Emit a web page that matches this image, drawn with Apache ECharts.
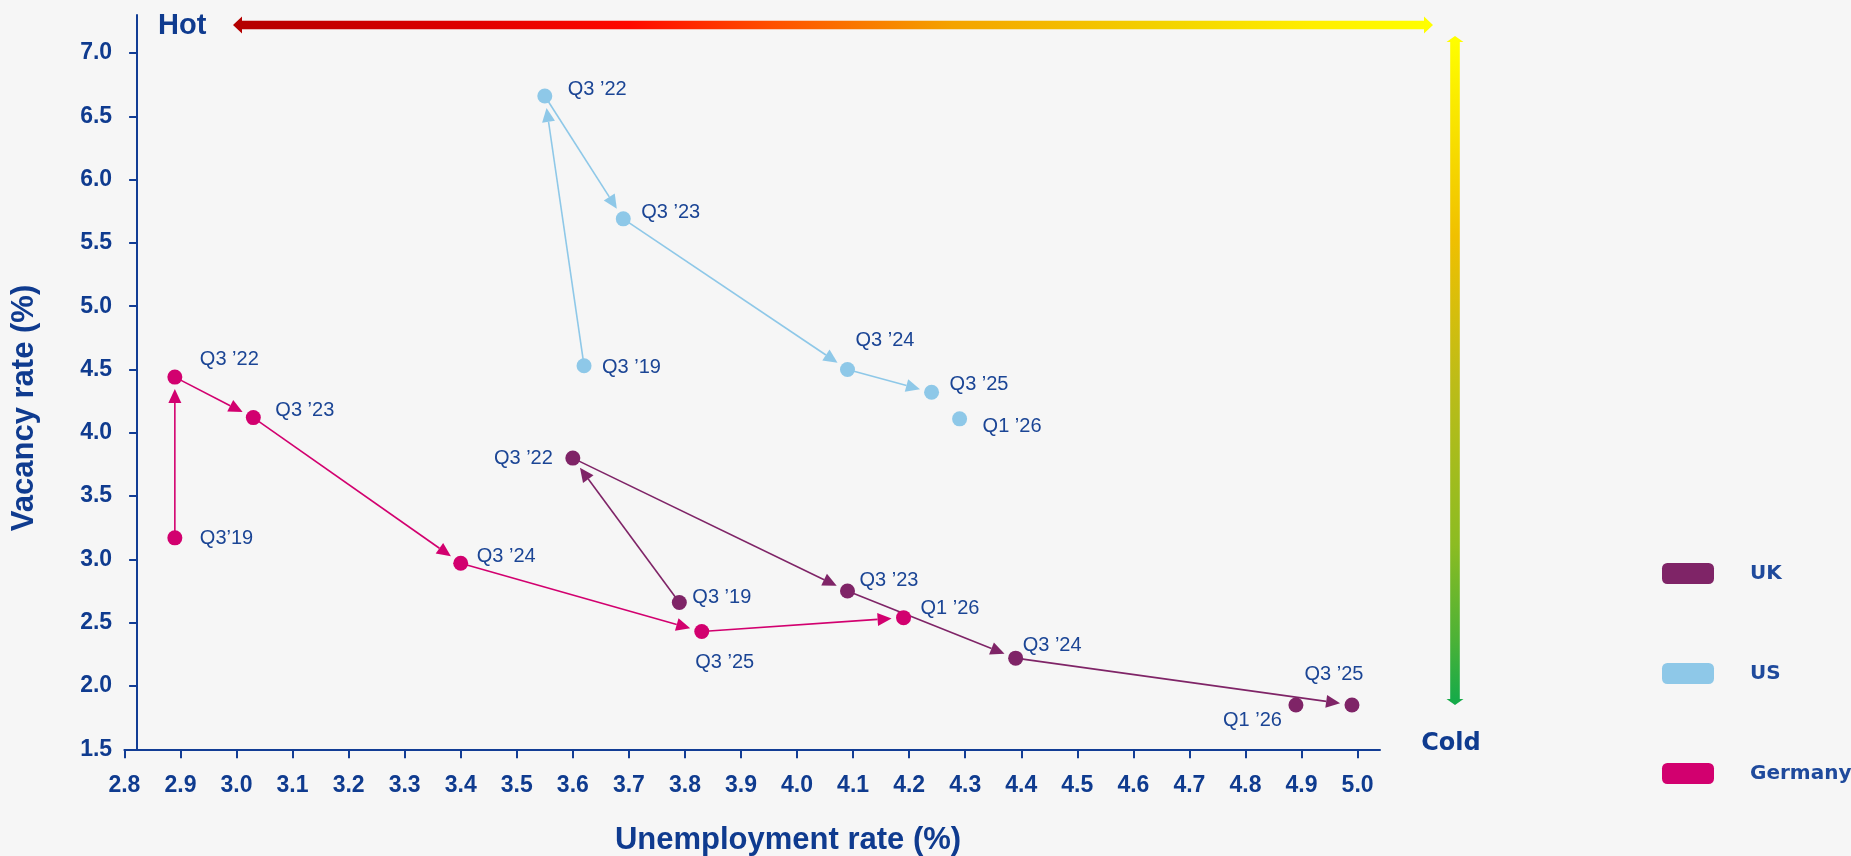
<!DOCTYPE html>
<html>
<head>
<meta charset="utf-8">
<script src="https://cdn.jsdelivr.net/npm/echarts@6/dist/echarts.min.js"></script>
<style>
html,body{margin:0;padding:0;background:#f6f6f6;}
#chart{width:1851px;height:856px;}
</style>
</head>
<body>
<div id="chart"></div>
<script>
// ---------------- DATA ----------------
const ukPeriods = ['Q3 ’19', 'Q3 ’22', 'Q3 ’23', 'Q3 ’24', 'Q3 ’25', 'Q1 ’26'];
const ukUnemployment = [3.79, 3.60, 4.09, 4.39, 4.99, 4.89];
const ukVacancy = [2.66, 3.80, 2.75, 2.22, 1.85, 1.85];
const ukArrowSteps = 4; // arrows drawn Q3'19 -> ... -> Q3'25

const usPeriods = ['Q3 ’19', 'Q3 ’22', 'Q3 ’23', 'Q3 ’24', 'Q3 ’25', 'Q1 ’26'];
const usUnemployment = [3.62, 3.55, 3.69, 4.09, 4.24, 4.29];
const usVacancy = [4.53, 6.66, 5.69, 4.50, 4.32, 4.11];
const usArrowSteps = 4;

const dePeriods = ['Q3’19', 'Q3 ’22', 'Q3 ’23', 'Q3 ’24', 'Q3 ’25', 'Q1 ’26'];
const deUnemployment = [2.89, 2.89, 3.03, 3.40, 3.83, 4.19];
const deVacancy = [3.17, 4.44, 4.12, 2.97, 2.43, 2.54];
const deArrowSteps = 5;

const xTickValues = [2.8, 2.9, 3.0, 3.1, 3.2, 3.3, 3.4, 3.5, 3.6, 3.7, 3.8, 3.9, 4.0, 4.1, 4.2, 4.3, 4.4, 4.5, 4.6, 4.7, 4.8, 4.9, 5.0];
const yTickValues = [1.5, 2.0, 2.5, 3.0, 3.5, 4.0, 4.5, 5.0, 5.5, 6.0, 6.5, 7.0];

const seriesNames = ['UK', 'US', 'Germany'];
const xAxisTitle = 'Unemployment rate (%)';
const yAxisTitle = 'Vacancy rate (%)';
const hotText = 'Hot';
const coldText = 'Cold';

// ---------------- LAYOUT / STYLE ----------------
const COLORS = { UK: '#7f2467', US: '#8ec8e8', Germany: '#d2006f' };
const NAVY = '#0f3b8f';
const LABEL_COLOR = '#1b4595';
const BOLD_FONT = '"Liberation Sans", Arial, sans-serif';
const WIDE_FONT = '"DejaVu Sans", Verdana, sans-serif';

// label offsets from point centre [dx, dy, align]
const LABEL_LAYOUT = {
  UK: [[13, -5, 'left'], [-20, 0, 'right'], [12, -11, 'left'], [7, -13, 'left'], [-18, -31, 'center'], [-14, 15, 'right']],
  US: [[18, 2, 'left'], [23, -7, 'left'], [18, -6, 'left'], [8, -29, 'left'], [18, -8, 'left'], [23, 8, 'left']],
  Germany: [[25, 1, 'left'], [25, -18, 'left'], [22, -7, 'left'], [16, -7, 'left'], [23, 31, 'center'], [17, -9, 'left']]
};

const SYMBOL = 15;
const ARROW_GAP = 12, HEAD_LEN = 14, HEAD_HALF = 6.5;

function pointData(name, xs, ys, periods) {
  return xs.map((x, i) => {
    const l = LABEL_LAYOUT[name][i];
    return {
      value: [x, ys[i]],
      label: {
        formatter: periods[i],
        position: [SYMBOL / 2 + l[0], SYMBOL / 2 + l[1]],
        align: l[2],
        verticalAlign: 'middle'
      }
    };
  });
}

function arrowData(xs, ys, steps) {
  const out = [];
  for (let i = 0; i < steps; i++) out.push([xs[i], ys[i], xs[i + 1], ys[i + 1]]);
  return out;
}

function arrowRenderer(color) {
  return function (params, api) {
    const p1 = api.coord([api.value(0), api.value(1)]);
    const p2 = api.coord([api.value(2), api.value(3)]);
    const dx = p2[0] - p1[0], dy = p2[1] - p1[1];
    const len = Math.hypot(dx, dy) || 1;
    const ux = dx / len, uy = dy / len;
    const tip = [p2[0] - ux * ARROW_GAP, p2[1] - uy * ARROW_GAP];
    const base = [tip[0] - ux * HEAD_LEN, tip[1] - uy * HEAD_LEN];
    const nx = -uy, ny = ux;
    return {
      type: 'group',
      children: [
        { type: 'line', shape: { x1: p1[0], y1: p1[1], x2: base[0], y2: base[1] },
          style: { stroke: color, lineWidth: 1.6 } },
        { type: 'polygon', shape: { points: [tip,
            [base[0] + nx * HEAD_HALF, base[1] + ny * HEAD_HALF],
            [base[0] - nx * HEAD_HALF, base[1] - ny * HEAD_HALF]] },
          style: { fill: color } }
      ]
    };
  };
}

const countries = [
  { name: 'UK', xs: ukUnemployment, ys: ukVacancy, periods: ukPeriods, steps: ukArrowSteps },
  { name: 'US', xs: usUnemployment, ys: usVacancy, periods: usPeriods, steps: usArrowSteps },
  { name: 'Germany', xs: deUnemployment, ys: deVacancy, periods: dePeriods, steps: deArrowSteps }
];

const series = [];
countries.forEach(c => {
  series.push({
    name: c.name,
    type: 'custom',
    renderItem: arrowRenderer(COLORS[c.name]),
    encode: { x: [0, 2], y: [1, 3] },
    itemStyle: { color: COLORS[c.name] },
    data: arrowData(c.xs, c.ys, c.steps),
    z: 2,
    silent: true
  });
});
countries.forEach(c => {
  series.push({
    name: c.name,
    type: 'scatter',
    symbol: 'circle',
    symbolSize: SYMBOL,
    itemStyle: { color: COLORS[c.name], opacity: 1 },
    label: {
      show: true,
      color: LABEL_COLOR,
      fontFamily: BOLD_FONT,
      fontSize: 20
    },
    data: pointData(c.name, c.xs, c.ys, c.periods),
    z: 3
  });
});

const hGradient = new echarts.graphic.LinearGradient(0, 0, 1, 0, [
  { offset: 0, color: '#b30000' },
  { offset: 0.2, color: '#e00000' },
  { offset: 0.33, color: '#ff0800' },
  { offset: 0.45, color: '#ff5000' },
  { offset: 0.6, color: '#f4a300' },
  { offset: 0.78, color: '#f3d400' },
  { offset: 0.9, color: '#ffee00' },
  { offset: 1, color: '#ffff00' }
]);
const vGradient = new echarts.graphic.LinearGradient(0, 0, 0, 1, [
  { offset: 0, color: '#ffff00' },
  { offset: 0.3, color: '#f0c000' },
  { offset: 0.52, color: '#bcbc18' },
  { offset: 0.76, color: '#8cbc22' },
  { offset: 0.9, color: '#4db236' },
  { offset: 1, color: '#12aa4a' }
]);

const chart = echarts.init(document.getElementById('chart'), null, { renderer: 'canvas' });
chart.setOption({
  backgroundColor: '#f6f6f6',
  animation: false,
  grid: { left: 124.4, right: 471, top: 15, bottom: 106.7, containLabel: false },
  xAxis: {
    type: 'value',
    min: 2.8, max: 5.04, interval: 0.1,
    splitLine: { show: false },
    axisLine: { show: true, onZero: false, lineStyle: { color: '#123d95', width: 2 } },
    axisTick: { show: true, length: 9, lineStyle: { color: '#123d95', width: 2 }, customValues: xTickValues },
    axisLabel: { customValues: xTickValues, formatter: v => v.toFixed(1), color: NAVY,
      fontFamily: BOLD_FONT, fontWeight: 'bold', fontSize: 23, margin: 25 }
  },
  yAxis: {
    type: 'value',
    min: 1.5, max: 7.3, interval: 0.5,
    offset: -12.7,
    splitLine: { show: false },
    axisLine: { show: true, onZero: false, lineStyle: { color: '#123d95', width: 2 } },
    axisTick: { show: true, length: 8, lineStyle: { color: '#123d95', width: 2 }, customValues: yTickValues },
    axisLabel: { customValues: yTickValues, formatter: v => v.toFixed(1), color: NAVY,
      fontFamily: BOLD_FONT, fontWeight: 'bold', fontSize: 23, margin: 25 }
  },
  legend: {
    orient: 'vertical',
    left: 1662, top: 563, padding: 0,
    itemWidth: 52, itemHeight: 21, itemGap: 79,
    icon: 'roundRect',
    selectedMode: false,
    data: seriesNames.map(n => ({ name: n, itemStyle: { color: COLORS[n] } })),
    textStyle: { fontFamily: WIDE_FONT, fontWeight: 'bold', fontSize: 20, color: '#1f4a9c', padding: [0, 0, 0, 31] }
  },
  graphic: [
    { type: 'text', left: 158, top: 11, style: { text: hotText, fill: NAVY, font: 'bold 29px ' + BOLD_FONT } },
    { type: 'polygon', shape: { points: [[233, 25], [242, 16.5], [242, 20.7], [1424, 20.7], [1424, 16.5], [1433, 25], [1424, 33.5], [1424, 29.3], [242, 29.3], [242, 33.5]] },
      style: { fill: hGradient } },
    { type: 'polygon', shape: { points: [[1455, 36], [1463.5, 42], [1459.8, 42], [1459.8, 699], [1463.5, 699], [1455, 705], [1446.5, 699], [1450.2, 699], [1450.2, 42], [1446.5, 42]] },
      style: { fill: vGradient } },
    { type: 'text', x: 1451, y: 744, style: { text: coldText, fill: NAVY, font: 'bold 24px ' + WIDE_FONT, textAlign: 'center', textVerticalAlign: 'middle' } },
    { type: 'text', x: 788, y: 840, style: { text: xAxisTitle, fill: NAVY, font: 'bold 31px ' + BOLD_FONT, textAlign: 'center', textVerticalAlign: 'middle' } },
    { type: 'text', x: 24, y: 408, rotation: Math.PI / 2, style: { text: yAxisTitle, fill: NAVY, font: 'bold 31px ' + BOLD_FONT, textAlign: 'center', textVerticalAlign: 'middle' } }
  ],
  series: series
});
</script>
</body>
</html>
